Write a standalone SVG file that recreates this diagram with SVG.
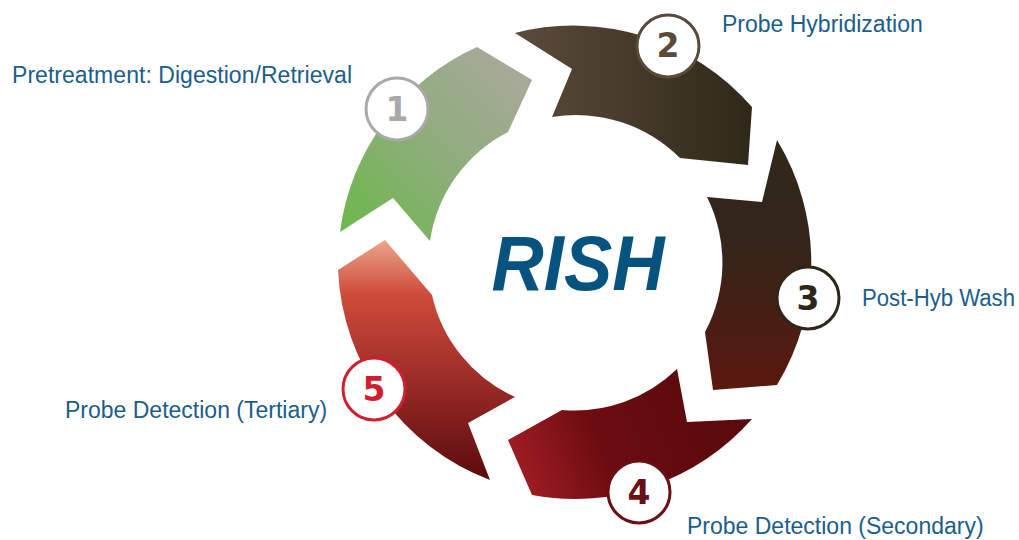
<svg xmlns="http://www.w3.org/2000/svg" width="1019" height="540" viewBox="0 0 1019 540">
<style>
.lbl{font-family:"Liberation Sans",Arial,sans-serif;font-size:23px;fill:#1b5e8a}
.num{font-family:"DejaVu Sans",sans-serif;font-size:33px;font-weight:bold;text-anchor:middle}
.ring{fill:#fff;stroke-width:3}
</style>
<defs>
<linearGradient id="g1" gradientUnits="userSpaceOnUse" x1="345" y1="235" x2="525" y2="60">
<stop offset="0" stop-color="#6cb84a"/><stop offset="0.5" stop-color="#8fad7c"/><stop offset="1" stop-color="#aaa99c"/>
</linearGradient>
<linearGradient id="g2" gradientUnits="userSpaceOnUse" x1="515" y1="0" x2="752" y2="0">
<stop offset="0" stop-color="#5b4b3b"/><stop offset="1" stop-color="#2f2819"/>
</linearGradient>
<linearGradient id="g3" gradientUnits="userSpaceOnUse" x1="0" y1="140" x2="0" y2="392">
<stop offset="0" stop-color="#30281a"/><stop offset="0.4" stop-color="#33251a"/><stop offset="1" stop-color="#5c180e"/>
</linearGradient>
<linearGradient id="g4" gradientUnits="userSpaceOnUse" x1="515" y1="470" x2="705" y2="400">
<stop offset="0" stop-color="#a01d24"/><stop offset="0.45" stop-color="#6b0c10"/><stop offset="1" stop-color="#5c0a0d"/>
</linearGradient>
<linearGradient id="g5" gradientUnits="userSpaceOnUse" x1="0" y1="240" x2="0" y2="482">
<stop offset="0" stop-color="#eaa68c"/><stop offset="0.22" stop-color="#d04c3a"/><stop offset="0.55" stop-color="#a02e2a"/><stop offset="1" stop-color="#5a0a0c"/>
</linearGradient>
</defs>
<g id="connectors">
<path id="seg1" fill="url(#g1)" d="M340,232 L393,198 L430,241 A147,147 0 0,1 508,132 L532,80 L477,47 A236,236 0 0,0 340,232 Z"/>
<path id="seg2" fill="url(#g2)" d="M515,33 L572,69 L552,117 A147,147 0 0,1 680,158 L748,165 L752,107 A236,236 0 0,0 515,33 Z"/>
<path id="seg3" fill="url(#g3)" d="M777,140 L762,202 L707,197 A147,147 0 0,1 705,332 L713,390 L777,385 A236,236 0 0,0 777,140 Z"/>
<path id="seg4" fill="url(#g4)" d="M752,419 L687,422 L677,369 A147,147 0 0,1 562,410 L508,440 L532,495 A236,236 0 0,0 752,419 Z"/>
<path id="seg5" fill="url(#g5)" d="M490,480 L468,423 L515,397 A147,147 0 0,1 432,295 L385,240 L338,270 A236,236 0 0,0 490,480 Z"/>
</g>
<g id="center">
<text x="578" y="290" text-anchor="middle" textLength="173" lengthAdjust="spacingAndGlyphs" style="font-family:'Liberation Sans',Arial,sans-serif;font-size:77px;font-weight:bold;font-style:italic;fill:#07537f">RISH</text>
</g>
<g id="step1">
<circle class="ring" cx="397" cy="109" r="31" stroke="#a9a9a9"/>
<text class="num" x="397" y="121" fill="#a8a8a8">1</text>
<text class="lbl" x="12" y="83" textLength="340">Pretreatment: Digestion/Retrieval</text>
</g>
<g id="step2">
<circle class="ring" cx="668" cy="46" r="31" stroke="#5a4a3a"/>
<text class="num" x="668" y="57" fill="#5a4a3a">2</text>
<text class="lbl" x="722" y="32">Probe Hybridization</text>
</g>
<g id="step3">
<circle class="ring" cx="808" cy="298" r="31" stroke="#2e2618"/>
<text class="num" x="808" y="310" fill="#2e2618">3</text>
<text class="lbl" x="862" y="306" textLength="153" lengthAdjust="spacingAndGlyphs">Post-Hyb Wash</text>
</g>
<g id="step4">
<circle class="ring" cx="639" cy="492" r="31" stroke="#6b0f14"/>
<text class="num" x="639" y="504" fill="#6b0f14">4</text>
<text class="lbl" x="687" y="534">Probe Detection (Secondary)</text>
</g>
<g id="step5">
<circle class="ring" cx="374" cy="389" r="31" stroke="#d0202e"/>
<text class="num" x="374" y="401" fill="#d0202e">5</text>
<text class="lbl" x="65" y="418">Probe Detection (Tertiary)</text>
</g>
</svg>
